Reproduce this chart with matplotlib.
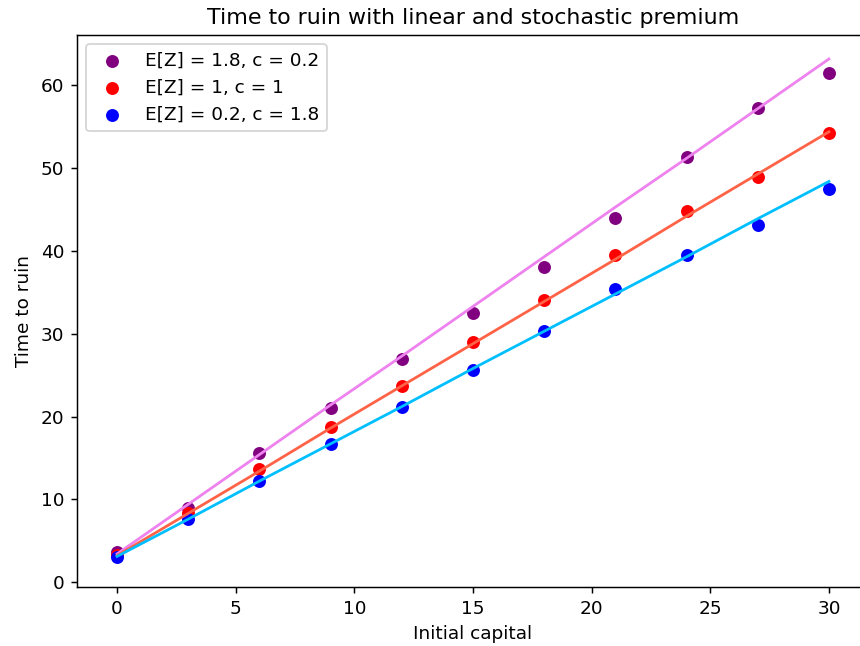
import matplotlib
matplotlib.use("Agg")
import matplotlib.pyplot as plt

# capital inicial
capital = [0, 3, 6, 9, 12, 15, 18, 21, 24, 27, 30]

# tiempos simulados (puntos)
tiempo_18 = [3.6, 9.0, 15.6, 21.0, 27.0, 32.5, 38.1, 44.0, 51.3, 57.3, 61.5]
tiempo_1 = [3.3, 8.4, 13.6, 18.7, 23.7, 29.0, 34.1, 39.5, 44.8, 48.9, 54.2]
tiempo_02 = [3.0, 7.6, 12.2, 16.7, 21.1, 25.6, 30.3, 35.4, 39.5, 43.1, 47.5]

# rectas ajustadas
ajuste_18 = [3.4, 9.4, 15.4, 21.4, 27.3, 33.3, 39.3, 45.3, 51.2, 57.2, 63.2]
ajuste_1 = [3.2, 8.3, 13.4, 18.6, 23.7, 28.8, 33.9, 39.0, 44.2, 49.3, 54.4]
ajuste_02 = [3.1, 7.6, 12.2, 16.7, 21.2, 25.8, 30.3, 34.8, 39.3, 43.9, 48.4]

etiquetas = ["E[Z] = 1.8, c = 0.2", "E[Z] = 1, c = 1", "E[Z] = 0.2, c = 1.8"]

# figura a 133 dpi -> 860x646 px
dpi = 133
fig = plt.figure(figsize=(860 / dpi, 646 / dpi), dpi=dpi)
ax = fig.add_axes([77 / 860, 59 / 646, 792 / 860, 552 / 646])

ax.scatter(capital, tiempo_18, color='purple', label=etiquetas[0])
ax.scatter(capital, tiempo_1, color='red', label=etiquetas[1])
ax.scatter(capital, tiempo_02, color='blue', label=etiquetas[2])

ax.plot(capital, ajuste_18, color='violet')
ax.plot(capital, ajuste_1, color='tomato')
ax.plot(capital, ajuste_02, color='deepskyblue')

ax.set_xlim(-1.69, 31.69)
ax.set_ylim(-0.6, 66.1)
ax.set_xticks([0, 5, 10, 15, 20, 25, 30])
ax.set_yticks([0, 10, 20, 30, 40, 50, 60])

ax.set_title('Time to ruin with linear and stochastic premium')
ax.set_xlabel('Initial capital')
ax.set_ylabel('Time to ruin')
ax.legend(loc='upper left', scatterpoints=1)

plt.savefig("out.png", dpi=dpi)
plt.close()
